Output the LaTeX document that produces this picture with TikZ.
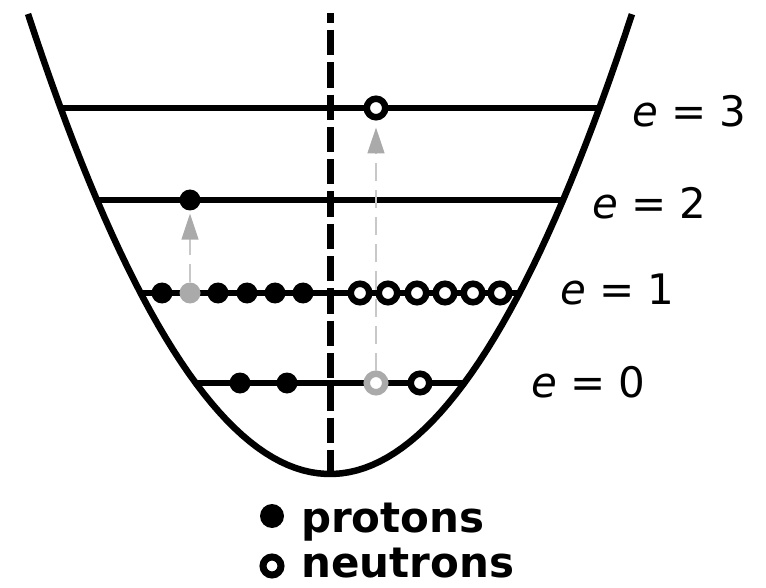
\documentclass[tikz,border=0pt]{standalone}
\usepackage{fontspec}
\setmainfont{DejaVu Sans}
\usepackage{tikz}
\usetikzlibrary{arrows.meta}
\definecolor{cHole}{RGB}{170,170,170}
\definecolor{cJump}{RGB}{200,200,200}

\begin{document}
\begin{tikzpicture}[x=1pt, y=-1pt, shell/.style={line width=6.5pt},
					proton/.style={circle, fill=black, minimum size=21pt, inner sep=0pt},
					neutron/.style={circle, draw=black, fill=white, line width=6.5pt, minimum size=18.5pt, inner sep=0pt},
					jump/.style={cJump, line width=1.5pt, dash pattern=on 18pt off 9pt, -{Triangle[width=17pt,length=26pt,color=cHole]}},
					elabel/.style={anchor=base west, inner sep=0pt, font=\fontsize{42}{48}\selectfont},
					legend/.style={anchor=base west, inner sep=0pt, text depth=0pt, font=\fontsize{42}{50}\selectfont\bfseries}]
					\useasboundingbox (0,0) rectangle (766,588);
					\draw[shell] plot[domain=-3.02:3.02, samples=80] ({330+100*(\x)},{474-50.44*(\x)*(\x)});
					\foreach \y in {108,200,293,383} {\pgfmathsetmacro\dx{sqrt(474-\y)*14.0804} \draw[shell] ({330-\dx},\y) -- ({330+\dx},\y);}
					\draw[line width=7pt, dash pattern=on 25.3pt off 7pt, dash phase=15.3pt] (330,13) -- (330,474);
					\begin{scope}
						\node[proton] (p1a) at (162,293) {}; \node[proton, fill=cHole] (p1b) at (190,293) {};
						\foreach \x [count=\i] in {218,247,275,303} \node[proton] (p1c\i) at (\x,293) {};
						\foreach \x [count=\i] in {360,388,417,445,473,500} \node[neutron] (n1\i) at (\x,293) {};
						\node[proton] (p0a) at (240,383) {}; \node[proton] (p0b) at (287,383) {};
						\node[neutron, draw=cHole] (n0a) at (376,383) {}; \node[neutron] (n0b) at (420,383) {};
						\node[proton] (p2) at (190,200) {};
						\node[neutron] (n3) at (376,108) {};
					\end{scope}
					\draw[jump, shorten >=3pt] (p1b) -- (p2);
					\draw[jump, shorten >=7pt] (n0a) -- (n3);
					\node[elabel] (e3) at (632,127) {\textit{e}\hspace{13pt}=\hspace{13pt}3};
					\node[elabel] (e2) at (592,219) {\textit{e}\hspace{13pt}=\hspace{13pt}2};
					\node[elabel] (e1) at (560,304) {\textit{e}\hspace{13pt}=\hspace{13pt}1};
					\node[elabel] (e0) at (531,397) {\textit{e}\hspace{13pt}=\hspace{13pt}0};
					\node[proton, minimum size=24pt] (mp) at (272,516) {};
					\node[neutron, line width=7pt, minimum size=18pt] (mn) at (272,566) {};
					\node[legend] (tp) at (301,532) {protons};
					\node[legend] (tn) at (301,577) {neutrons};
				\end{tikzpicture}
\end{document}
